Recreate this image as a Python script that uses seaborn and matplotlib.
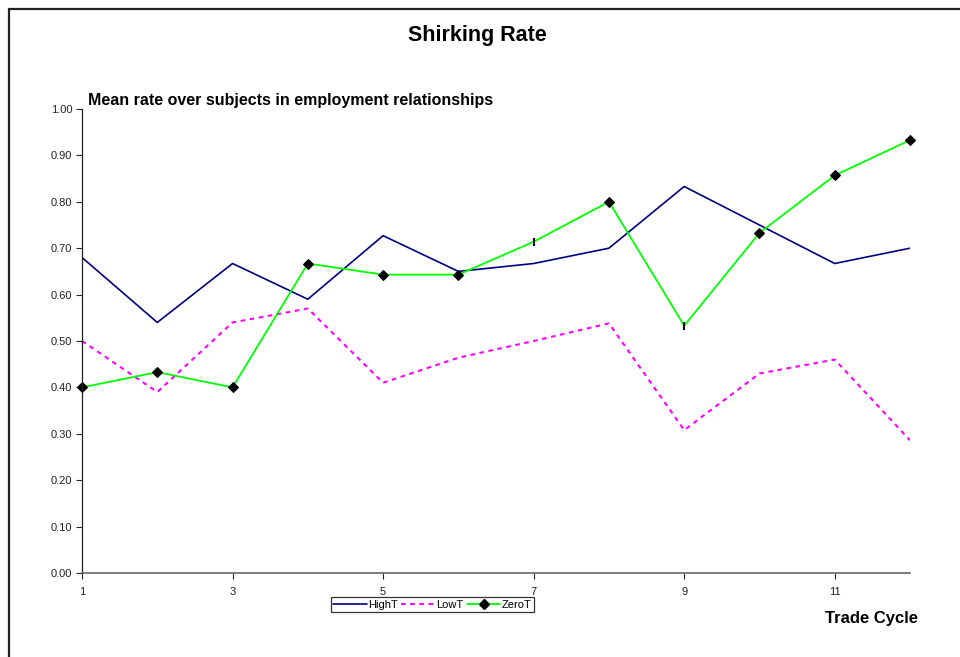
import matplotlib
matplotlib.use("Agg")
import matplotlib.pyplot as plt
from matplotlib.lines import Line2D
import seaborn as sns
import pandas as pd

cycles = list(range(1, 13))
high_t = [0.68, 0.54, 0.667, 0.59, 0.727, 0.65, 0.667, 0.70, 0.833, 0.75, 0.667, 0.70]
low_t = [0.50, 0.39, 0.54, 0.57, 0.41, 0.464, 0.50, 0.538, 0.308, 0.43, 0.46, 0.286]
zero_t = [0.40, 0.433, 0.40, 0.667, 0.643, 0.643, 0.714, 0.80, 0.533, 0.733, 0.857, 0.933]
y_ticks = [0.0, 0.1, 0.2, 0.3, 0.4, 0.5, 0.6, 0.7, 0.8, 0.9, 1.0]
x_ticks = [1, 3, 5, 7, 9, 11]

sns.set_style("white")
plt.rcParams["font.family"] = ["Liberation Sans", "DejaVu Sans"]
plt.rcParams["text.color"] = "black"

df = pd.DataFrame({"cycle": cycles, "HighT": high_t, "LowT": low_t, "ZeroT": zero_t})

fig = plt.figure(figsize=(9.6, 6.57), dpi=100)
ax = fig.add_axes([82 / 960, 1 - 573 / 657, 828 / 960, 464 / 657])

sns.lineplot(data=df, x="cycle", y="HighT", ax=ax, color="#000080", lw=1.2, label="HighT")
sns.lineplot(data=df, x="cycle", y="LowT", ax=ax, color="#FF00FF", lw=1.5,
             linestyle=(0, (2.2, 2.2)), label="LowT")
diamond_idx = [i for i in range(len(cycles)) if cycles[i] not in (7, 9)]
sns.lineplot(data=df, x="cycle", y="ZeroT", ax=ax, color="#00FF00", lw=1.3,
             marker="D", markersize=5, markerfacecolor="black", markeredgecolor="black",
             markevery=diamond_idx, label="ZeroT", clip_on=False)
bar_pts = df[df["cycle"].isin([7, 9])]
ax.scatter(bar_pts["cycle"], bar_pts["ZeroT"], marker="|", s=30, color="black",
           linewidths=1.5, zorder=5)

ax.set_xlim(1, 12)
ax.set_ylim(0, 1.0)
ax.set_xticks(x_ticks)
ax.set_yticks(y_ticks)
ax.set_yticklabels([f"{v:.2f}" for v in y_ticks])
ax.set_xlabel("")
ax.set_ylabel("")
ax.tick_params(axis="both", labelsize=8, length=4, width=0.8, direction="out",
               colors="#222222", labelcolor="#222222", pad=3)
ax.tick_params(axis="x", pad=6, length=4)
ax.yaxis.set_ticks_position("left")
ax.xaxis.set_ticks_position("bottom")
for side in ("top", "right"):
    ax.spines[side].set_visible(False)
ax.spines["left"].set_color("#222222")
ax.spines["left"].set_linewidth(0.9)
ax.spines["bottom"].set_color("#666666")
ax.spines["bottom"].set_linewidth(1.2)

handles, labels = ax.get_legend_handles_labels()
ax.legend_.remove()
zero_handle = Line2D([], [], color="#00FF00", lw=1.3, marker="D", markersize=5,
                     markerfacecolor="black", markeredgecolor="black")
leg = fig.legend([handles[0], handles[1], zero_handle], ["HighT", "LowT", "ZeroT"],
                 loc="center", bbox_to_anchor=(432.5 / 960, 1 - 604.5 / 657), ncol=3,
                 fontsize=8, frameon=True, fancybox=False, handlelength=3.0,
                 handletextpad=0.15, columnspacing=0.3, borderpad=0.25,
                 borderaxespad=0)
leg.get_frame().set_edgecolor("black")
leg.get_frame().set_linewidth(0.9)

fig.text(477 / 960, 1 - 36 / 657, "Shirking Rate", ha="center", va="center",
         fontsize=15.5, fontweight="bold", color="black")
fig.text(88 / 960, 1 - 100 / 657, "Mean rate over subjects in employment relationships",
         ha="left", va="center", fontsize=11.5, fontweight="bold", color="black")
fig.text(918 / 960, 1 - 618 / 657, "Trade Cycle", ha="right", va="center",
         fontsize=12, fontweight="bold", color="black")

# outer chart frame
fig.add_artist(Line2D([8.5 / 960, 1.0], [1 - 8.5 / 657, 1 - 8.5 / 657],
                      color="#222222", lw=1.6, transform=fig.transFigure))
fig.add_artist(Line2D([8.5 / 960, 8.5 / 960], [1 - 8.5 / 657, 0.0],
                      color="#222222", lw=1.6, transform=fig.transFigure))

fig.savefig("out.png", dpi=100)
